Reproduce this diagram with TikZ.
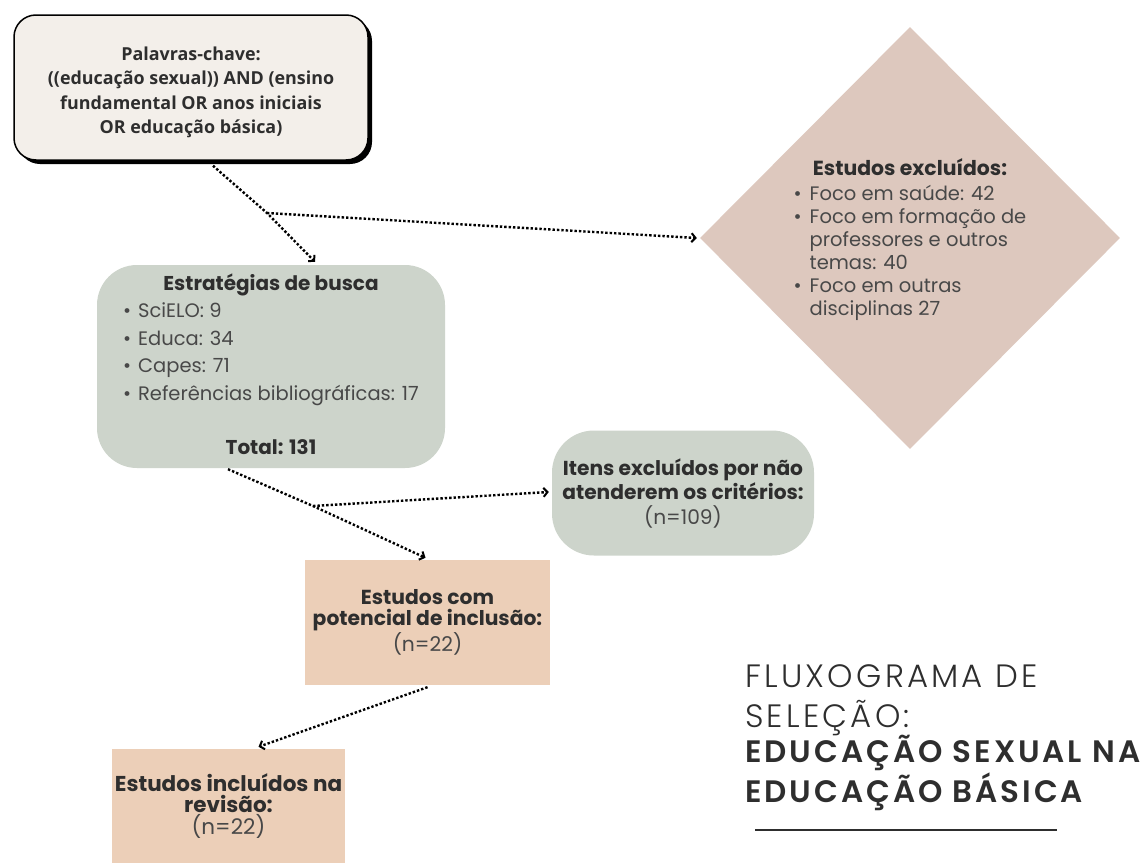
\documentclass[tikz,border=0pt]{standalone}
\usepackage{fontspec}
\setmainfont{Poppins}
\newfontfamily\osans{Open Sans}
\newfontfamily\plight{Poppins Light}
\newfontfamily\psemi{Poppins SemiBold}
\usetikzlibrary{shapes.geometric,arrows.meta,shadows}
\definecolor{kwfill}{HTML}{F3EFEA}
\definecolor{greenbox}{HTML}{CDD4CB}
\definecolor{diafill}{HTML}{DDC8BE}
\definecolor{peach}{HTML}{ECCFB8}
\definecolor{txt}{HTML}{2E2E2E}
\definecolor{txtl}{HTML}{484848}
\tikzset{
  flow/.style={line width=2.4pt, dash pattern=on 2.4pt off 2pt, -{Straight Barb[length=4pt,width=9pt,line width=2pt]}},
  kwbox/.style={fill=kwfill, draw=black, line width=1.5pt, rounded corners=22pt,
    drop shadow={shadow xshift=4pt, shadow yshift=-4pt, fill=black, opacity=1}},
  gbox/.style={fill=greenbox, inner sep=0pt},
  pbox/.style={fill=peach, inner sep=0pt, align=center},
  ttl/.style={anchor=base west, inner sep=0pt, text=txt},
}
\begin{document}
\begin{tikzpicture}[x=1pt,y=-1pt]
\useasboundingbox[fill=white] (0,0) rectangle (1148,862);

% top keyword box
\node[kwbox, minimum width=354pt, minimum height=145pt, inner sep=0pt, text=txt] (kw) at (191,87.5) {%
  \osans\bfseries\fontsize{17.9}{24.5}\selectfont
  \raisebox{-4.5pt}[\height][\depth]{\begin{tabular}{@{}c@{}}Palavras-chave:\\((educação sexual)) AND (ensino\\fundamental OR anos iniciais\\OR educação básica)\end{tabular}}};

% search strategies
\node[gbox, minimum width=348pt, minimum height=203pt, rounded corners=40pt, text=txtl] (est) at (271,366.5) {%
  \fontsize{19.5}{27.5}\selectfont
  \begin{tabular}{@{}l@{}}
  \multicolumn{1}{@{}c@{}}{\color{txt}\bfseries\fontsize{20}{27.5}\selectfont Estratégias de busca}\\
  •\hspace{7pt}SciELO: 9\\
  •\hspace{7pt}Educa: 34\\
  •\hspace{7pt}Capes: 71\\
  •\hspace{7pt}Referências bibliográficas: 17\\[26.5pt]
  \multicolumn{1}{@{}c@{}}{\color{txt}\bfseries\fontsize{20}{27.5}\selectfont Total: 131}
  \end{tabular}};

% excluded studies diamond
\node[diamond, aspect=1, fill=diafill, minimum width=420pt, minimum height=422pt, inner sep=0pt, text=txtl] (exc) at (910,238) {%
  \fontsize{19.5}{23}\selectfont
  \raisebox{-2.5pt}[\height][\depth]{\begin{tabular}{@{}l@{\hspace{8pt}}l@{}}
  \multicolumn{2}{@{}c@{}}{\color{txt}\bfseries\fontsize{20.4}{23}\selectfont Estudos excluídos:}\\[2pt]
  • & Foco em saúde: 42\\
  • & Foco em formação de\\
   & professores e outros\\
   & temas: 40\\
  • & Foco em outras\\
   & disciplinas  27
  \end{tabular}}};

% excluded items
\node[gbox, minimum width=262pt, minimum height=125pt, rounded corners=42pt, align=center, text=txt,
  font=\fontsize{20.2}{24.5}\selectfont] (itn) at (683,493)
  {{\bfseries Itens excluídos por não}\\{\bfseries atenderem os critérios:}\\{\color{txtl}(n=109)}};

% potential inclusion
\node[pbox, minimum width=245pt, minimum height=125pt, text=txt,
  font=\fontsize{20.3}{21}\selectfont] (pot) at (427.5,622.5)
  {{\bfseries Estudos com}\\{\bfseries potencial de inclusão:}\\{\color{txtl}(n=22)}};

% included
\node[pbox, minimum width=233pt, minimum height=114pt, text=txt,
  font=\fontsize{21.5}{21.5}\selectfont] (inc) at (228.5,806)
  {{\bfseries Estudos incluídos na}\\{\bfseries revisão:}\\{\color{txtl}(n=22)}};

% connectors
\coordinate (b1) at (267,213);
\coordinate (b2) at (313,506);
\draw[flow] ([xshift=22pt,yshift=-5pt]kw.south) -- (b1) -- ([xshift=44pt,yshift=3pt]est.north);
\draw[flow] (b1) -- ([xshift=-3pt]exc.west);
\draw[flow] ([xshift=-43pt,yshift=-1pt]est.south) -- (b2) -- ([xshift=-2pt,yshift=2pt]pot.north);
\draw[flow] (b2) -- ([xshift=-3pt,yshift=1pt]itn.west);
\draw[flow] ([yshift=-2pt]pot.south) -- ([xshift=30pt,yshift=2pt]inc.north);

% title
\node[ttl, font=\plight\addfontfeatures{LetterSpace=10}\fontsize{32.3}{36}\selectfont] (t1) at (745,687) {FLUXOGRAMA DE};
\node[ttl, font=\plight\addfontfeatures{LetterSpace=10}\fontsize{32.3}{36}\selectfont] (t2) at (745,727) {SELEÇÃO:};
\node[ttl, font=\psemi\addfontfeatures{LetterSpace=9.5}\fontsize{31}{36}\selectfont] (t3) at (745,762) {EDUCAÇÃO SEXUAL NA};
\node[ttl, font=\psemi\addfontfeatures{LetterSpace=9.5}\fontsize{31}{36}\selectfont] (t4) at (745,802) {EDUCAÇÃO BÁSICA};
\draw[line width=1.5pt, draw=txt] (755,830) -- (1057,830);
\end{tikzpicture}
\end{document}
